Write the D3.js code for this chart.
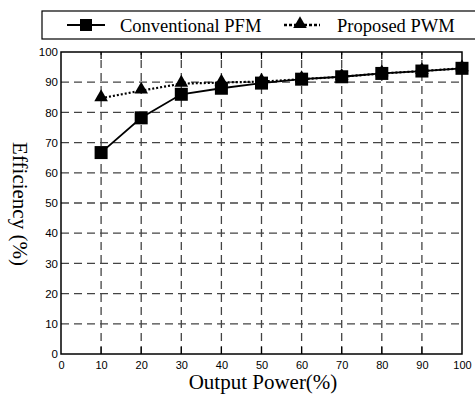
<!DOCTYPE html>
<html><head><meta charset="utf-8">
<script src="https://cdn.jsdelivr.net/npm/d3@7"></script>
<style>body{margin:0;background:#fff}svg{display:block}</style>
</head><body>
<script>
const outputPower = [10,20,30,40,50,60,70,80,90,100];
const conventionalPFM = [66.7,78.2,86.0,88.0,89.7,91.0,91.8,92.9,93.7,94.6];
const proposedPWM = [84.7,87.2,89.5,89.9,90.2,91.0,91.8,92.9,93.7,94.6];
const xTicks = [0,10,20,30,40,50,60,70,80,90,100];
const yTicks = [0,10,20,30,40,50,60,70,80,90,100];
const seriesNames = ["Conventional PFM","Proposed PWM"];

const W=475,H=394;
const svg=d3.select("body").append("svg").attr("width",W).attr("height",H);
const x=d3.scaleLinear().domain([0,100]).range([61,462]);
const y=d3.scaleLinear().domain([0,100]).range([354,52]);

// grid
const g=svg.append("g");
g.selectAll(".vg").data(xTicks.slice(1,-1)).join("line")
 .attr("x1",d=>x(d)).attr("x2",d=>x(d)).attr("y1",y(0)).attr("y2",y(100))
 .attr("stroke","#444").attr("stroke-width",1.3).attr("stroke-dasharray","8,5");
g.selectAll(".hg").data(yTicks.slice(1,-1)).join("line")
 .attr("y1",d=>y(d)).attr("y2",d=>y(d)).attr("x1",x(0)).attr("x2",x(100))
 .attr("stroke","#444").attr("stroke-width",1.3).attr("stroke-dasharray","8,5");

// frame
svg.append("rect").attr("x",x(0)).attr("y",y(100)).attr("width",x(100)-x(0)).attr("height",y(0)-y(100))
 .attr("fill","none").attr("stroke","#000").attr("stroke-width",1.5);

// axes
const xa=svg.append("g").attr("transform",`translate(0,${y(0)})`)
 .call(d3.axisBottom(x).tickValues(xTicks).tickSize(0).tickPadding(7));
xa.select(".domain").remove();
xa.selectAll("text").attr("font-family","Liberation Sans, Arial, sans-serif").attr("font-size",11).attr("fill","#000");
const ya=svg.append("g").attr("transform",`translate(${x(0)},0)`)
 .call(d3.axisLeft(y).tickValues(yTicks).tickSize(0).tickPadding(3));
ya.select(".domain").remove();
ya.selectAll("text").attr("font-family","Liberation Sans, Arial, sans-serif").attr("font-size",11.5).attr("fill","#000");

// inner solid ticks on top and bottom
const inner=xTicks.slice(1,-1);
svg.selectAll(".tt").data(inner).join("line")
 .attr("x1",d=>x(d)).attr("x2",d=>x(d)).attr("y1",y(100)).attr("y2",y(100)+7).attr("stroke","#000").attr("stroke-width",1.2);
svg.selectAll(".bt").data(inner).join("line")
 .attr("x1",d=>x(d)).attr("x2",d=>x(d)).attr("y1",y(0)).attr("y2",y(0)-7).attr("stroke","#000").attr("stroke-width",1.2);

// lines
const line=d3.line().x((d,i)=>x(outputPower[i])).y(d=>y(d));
svg.append("path").datum(proposedPWM).attr("d",line).attr("fill","none")
 .attr("stroke","#000").attr("stroke-width",2.2).attr("stroke-dasharray","2,2");
svg.append("path").datum(conventionalPFM).attr("d",line).attr("fill","none")
 .attr("stroke","#000").attr("stroke-width",1.8);

const tri=d3.symbol().type(d3.symbolTriangle).size(80);
svg.selectAll(".tri").data(proposedPWM).join("path")
 .attr("d",tri).attr("transform",(d,i)=>`translate(${x(outputPower[i])},${y(d)-1})`).attr("fill","#000");
svg.selectAll(".sq").data(conventionalPFM).join("rect")
 .attr("x",(d,i)=>x(outputPower[i])-6.5).attr("y",d=>y(d)-6.5).attr("width",13).attr("height",13).attr("fill","#000");

// axis labels
svg.append("text").attr("x",263).attr("y",389).attr("text-anchor","middle")
 .attr("font-family","Liberation Serif, Times New Roman, serif").attr("font-size",21).text("Output Power(%)");
svg.append("text").attr("transform","translate(13,204) rotate(90)").attr("text-anchor","middle")
 .attr("font-family","Liberation Serif, Times New Roman, serif").attr("font-size",21).text("Efficiency (%)");

// legend
svg.append("rect").attr("x",42).attr("y",11).attr("width",460).attr("height",28)
 .attr("fill","#fff").attr("stroke","#000").attr("stroke-width",1.2);
svg.append("line").attr("x1",67).attr("x2",105).attr("y1",25).attr("y2",25).attr("stroke","#000").attr("stroke-width",2);
svg.append("rect").attr("x",80).attr("y",19).attr("width",12).attr("height",12).attr("fill","#000");
svg.append("text").attr("x",120).attr("y",31.5).attr("font-family","Liberation Serif, Times New Roman, serif").attr("font-size",18.5).text(seriesNames[0]);
svg.append("line").attr("x1",284).attr("x2",320).attr("y1",25).attr("y2",25).attr("stroke","#000").attr("stroke-width",2.4).attr("stroke-dasharray","3,2");
svg.append("path").attr("d",tri).attr("transform","translate(300,24)").attr("fill","#000");
svg.append("text").attr("x",337).attr("y",31.5).attr("font-family","Liberation Serif, Times New Roman, serif").attr("font-size",18.5).text(seriesNames[1]);
</script>
</body></html>
